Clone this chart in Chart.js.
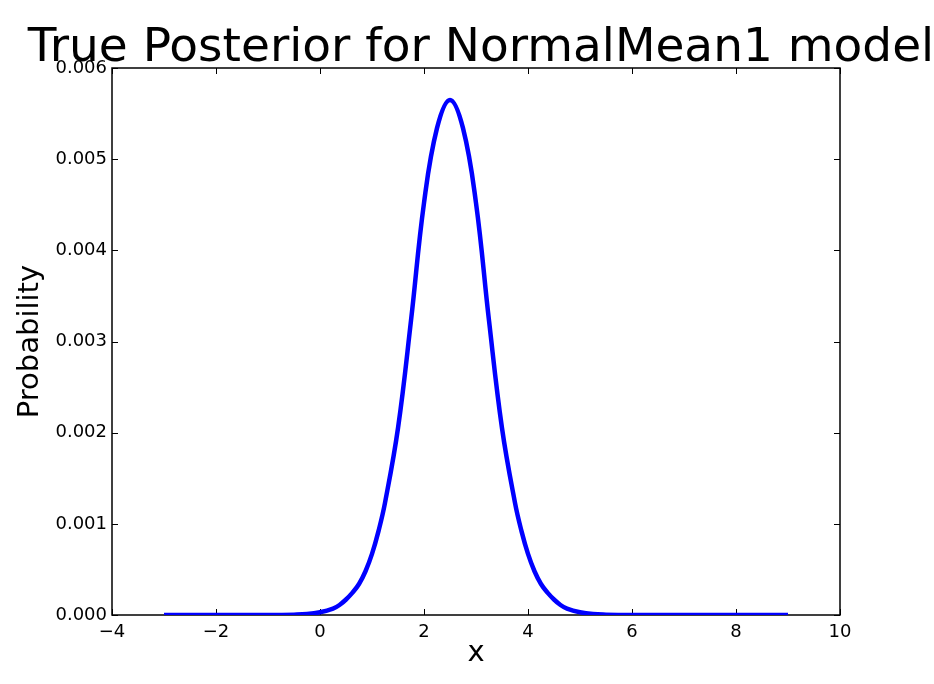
<!DOCTYPE html>
<html>
<head>
<meta charset="utf-8">
<script src="https://cdn.jsdelivr.net/npm/chart.js@4.4.0/dist/chart.umd.min.js"></script>
<style>
  html, body { margin: 0; padding: 0; background: #fff; }
  canvas { display: block; }
</style>
</head>
<body>
<canvas id="posterior" width="934" height="684"></canvas>
<script>
// values
const xValues = [-3, -2, -1, -0.5, -0.25, 0, 0.25, 0.375, 0.5, 0.625, 0.75, 0.875, 1, 1.125,
                 1.25, 1.5, 1.75, 2, 2.25, 2.5, 2.75, 3, 3.25, 3.5, 3.75, 3.875, 4, 4.125,
                 4.25, 4.375, 4.5, 4.625, 4.75, 5, 5.25, 5.5, 6, 7, 8, 9];
const probValues = [0, 0, 0.0000005, 0.000004, 0.00001, 0.00003, 0.00007, 0.00011, 0.00017,
                    0.000245, 0.00034, 0.00048, 0.00067, 0.00092, 0.00123, 0.00205, 0.00323,
                    0.00452, 0.00534, 0.00565, 0.00534, 0.00452, 0.00323, 0.00205, 0.00123,
                    0.00092, 0.00067, 0.00048, 0.00034, 0.000245, 0.00017, 0.00011, 0.00007,
                    0.00003, 0.00001, 0.000004, 0.0000005, 0, 0, 0];
const xTicks = [-4, -2, 0, 2, 4, 6, 8, 10];
const yTicks = [0, 0.001, 0.002, 0.003, 0.004, 0.005, 0.006];
const titleText = "True Posterior for NormalMean1 model";

const points = xValues.map((x, i) => ({ x: x, y: probValues[i] }));

const font = "'DejaVu Sans', sans-serif";

// matplotlib-like frame with inward ticks on all four sides
const frame = {
  id: "frame",
  beforeDatasetsDraw(chart) {
    const { ctx, chartArea: a, scales: { x, y } } = chart;
    ctx.save();
    ctx.strokeStyle = "#000";
    ctx.lineWidth = 1;
    ctx.beginPath();
    x.ticks.forEach(t => {
      const px = Math.round(x.getPixelForValue(t.value)) + 0.5;
      ctx.moveTo(px, a.bottom); ctx.lineTo(px, a.bottom - 6);
      ctx.moveTo(px, a.top); ctx.lineTo(px, a.top + 6);
    });
    y.ticks.forEach(t => {
      const py = Math.round(y.getPixelForValue(t.value)) + 0.5;
      ctx.moveTo(a.left, py); ctx.lineTo(a.left + 6, py);
      ctx.moveTo(a.right, py); ctx.lineTo(a.right - 6, py);
    });
    ctx.stroke();
    ctx.lineWidth = 1.5;
    ctx.strokeRect(a.left, a.top, a.right - a.left, a.bottom - a.top);
    ctx.restore();
  },
  // title is wider than the axes box, so draw it unsqueezed
  afterDraw(chart) {
    const { ctx, chartArea: a } = chart;
    ctx.save();
    ctx.fillStyle = "#000";
    ctx.font = "47px " + font;
    ctx.textAlign = "center";
    ctx.textBaseline = "alphabetic";
    ctx.fillText(titleText, (a.left + a.right) / 2 + 5, a.top - 7);
    ctx.restore();
  }
};

new Chart(document.getElementById("posterior"), {
  type: "line",
  data: {
    datasets: [{
      data: points,
      borderColor: "#0000ff",
      borderWidth: 4.5,
      pointRadius: 0,
      fill: false,
      tension: 0.4
    }]
  },
  options: {
    responsive: false,
    animation: false,
    devicePixelRatio: 1,
    layout: { padding: { left: 0, right: 94, top: 68, bottom: 0 } },
    plugins: {
      legend: { display: false },
      tooltip: { enabled: false },
      title: { display: false }
    },
    scales: {
      x: {
        type: "linear",
        min: -4,
        max: 10,
        afterBuildTicks: s => { s.ticks = xTicks.map(v => ({ value: v })); },
        afterFit: s => { s.height = 69; },
        grid: { display: false, drawTicks: false },
        border: { display: false },
        ticks: {
          color: "#000",
          padding: 7,
          maxRotation: 0,
          font: { family: font, size: 18 },
          callback: v => String(v).replace("-", "\u2212")
        },
        title: {
          display: true,
          text: "x",
          color: "#000",
          font: { family: font, size: 29, lineHeight: 1.2 },
          padding: { top: 0, bottom: 13.6 }
        }
      },
      y: {
        min: 0,
        max: 0.006,
        afterBuildTicks: s => { s.ticks = yTicks.map(v => ({ value: v })); },
        afterFit: s => { s.width = 112; },
        grid: { display: false, drawTicks: false },
        border: { display: false },
        ticks: {
          color: "#000",
          padding: 5,
          font: { family: font, size: 18 },
          callback: v => v.toFixed(3)
        },
        title: {
          display: true,
          text: "Probability",
          color: "#000",
          font: { family: font, size: 29, lineHeight: 1.2 },
          padding: { top: 12.6, bottom: 0 }
        }
      }
    }
  },
  plugins: [frame]
});
</script>
</body>
</html>
